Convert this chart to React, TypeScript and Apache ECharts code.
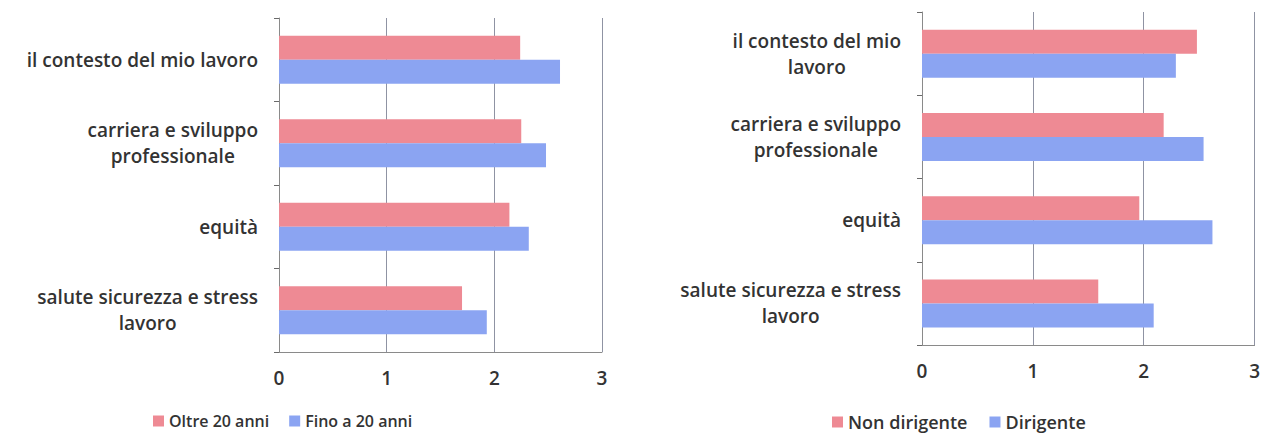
import React, { useEffect, useRef } from "react";
import * as echarts from "echarts";

const categories = [
  "il contesto del mio lavoro",
  "carriera e sviluppo\nprofessionale",
  "equità",
  "salute sicurezza e stress\nlavoro",
];
const categoriesRight = [
  "il contesto del mio\nlavoro",
  "carriera e sviluppo\nprofessionale",
  "equità",
  "salute sicurezza e stress\nlavoro",
];
const oltre20 = [2.24, 2.25, 2.14, 1.7];
const fino20 = [2.61, 2.48, 2.32, 1.93];
const nonDirigente = [2.48, 2.18, 1.96, 1.59];
const dirigente = [2.29, 2.54, 2.62, 2.09];
const xTicks = [0, 1, 2, 3];

const RED = "#EE8A94";
const BLUE = "#8BA4F2";
const FONT = "Open Sans";
const TEXT = "#333333";

export default function App() {
  const ref = useRef<HTMLDivElement>(null);
  useEffect(() => {
    if (!ref.current) return;
    const chart = echarts.init(ref.current, undefined, { renderer: "svg" });
    const yAxisCommon = (data: string[], idx: number) => ({
      type: "category",
      gridIndex: idx,
      data,
      inverse: true,
      axisLine: { show: true, lineStyle: { color: "#8a8a8a", width: 1 } },
      axisTick: { show: true, length: 5, lineStyle: { color: "#6a6a6a" } },
      axisLabel: {
        margin: 21,
        align: "right",
        formatter: (v: string) =>
          v
            .split("\n")
            .map((l) => `{c|${l}}`)
            .join("\n"),
        rich: {
          c: {
            align: "center",
            fontFamily: FONT,
            fontWeight: 600,
            fontSize: 19,
            lineHeight: 26,
            color: TEXT,
          },
        },
      },
    });
    const xAxisCommon = (idx: number) => ({
      type: "value",
      gridIndex: idx,
      min: xTicks[0],
      max: xTicks[xTicks.length - 1],
      interval: 1,
      axisLine: { show: true, lineStyle: { color: "#8a8a8a" } },
      axisTick: { show: false },
      splitLine: { show: true, lineStyle: { color: "#8f93a3", width: 1 } },
      axisLabel: {
        margin: 16,
        fontFamily: FONT,
        fontWeight: 600,
        fontSize: 19,
        color: TEXT,
      },
    });
    chart.setOption({
      animation: false,
      backgroundColor: "#ffffff",
      grid: [
        { left: 279, top: 18, width: 323, height: 334 },
        { left: 922, top: 12, width: 336, height: 333 },
      ],
      xAxis: [xAxisCommon(0), xAxisCommon(1)],
      yAxis: [yAxisCommon(categories, 0), yAxisCommon(categoriesRight, 1)],
      legend: [
        {
          left: 153,
          top: 412,
          padding: 0,
          itemWidth: 11,
          itemHeight: 11,
          itemGap: 20,
          itemTextGap: 4,
          icon: "rect",
          data: ["Oltre 20 anni", "Fino a 20 anni"],
          textStyle: {
            fontFamily: FONT,
            fontWeight: 600,
            fontSize: 16,
            lineHeight: 18,
            color: TEXT,
          },
        },
        {
          left: 832,
          top: 413,
          padding: 0,
          itemWidth: 11,
          itemHeight: 11,
          itemGap: 22,
          itemTextGap: 4,
          icon: "rect",
          data: ["Non dirigente", "Dirigente"],
          textStyle: {
            fontFamily: FONT,
            fontWeight: 600,
            fontSize: 18,
            lineHeight: 18,
            color: TEXT,
          },
        },
      ],
      series: [
        {
          name: "Oltre 20 anni",
          type: "bar",
          xAxisIndex: 0,
          yAxisIndex: 0,
          data: oltre20,
          barWidth: 24,
          barGap: "0%",
          itemStyle: { color: RED },
        },
        {
          name: "Fino a 20 anni",
          type: "bar",
          xAxisIndex: 0,
          yAxisIndex: 0,
          data: fino20,
          barWidth: 24,
          barGap: "0%",
          itemStyle: { color: BLUE },
        },
        {
          name: "Non dirigente",
          type: "bar",
          xAxisIndex: 1,
          yAxisIndex: 1,
          data: nonDirigente,
          barWidth: 24,
          barGap: "0%",
          itemStyle: { color: RED },
        },
        {
          name: "Dirigente",
          type: "bar",
          xAxisIndex: 1,
          yAxisIndex: 1,
          data: dirigente,
          barWidth: 24,
          barGap: "0%",
          itemStyle: { color: BLUE },
        },
      ],
    });
    return () => chart.dispose();
  }, []);
  return (
    <div
      ref={ref}
      style={{ position: "absolute", left: 0, top: 0, width: 1263, height: 434 }}
    />
  );
}
